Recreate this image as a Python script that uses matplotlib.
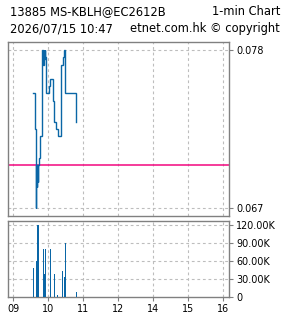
import matplotlib
matplotlib.use("Agg")
import matplotlib.pyplot as plt
import numpy as np

# ---------------- data ----------------
title_left = "13885 MS-KBLH@EC2612B"
title_right = "1-min Chart"
sub_left = "2026/07/15 10:47"
sub_right = "etnet.com.hk \u00a9 copyright"

# price path (time, price) as drawn step line (vertical moves repeat the time)
path_times = ["09:33", "09:38", "09:38", "09:39", "09:39", "09:39", "09:40", "09:40",
              "09:41", "09:41", "09:42", "09:42", "09:43", "09:43", "09:44", "09:44",
              "09:45", "09:45", "09:50", "09:50", "09:51", "09:51", "09:52", "09:52",
              "09:53", "09:53", "09:54", "09:54", "09:55", "09:55", "09:56", "09:56",
              "10:02", "10:02", "10:03", "10:03", "10:08", "10:08", "10:10", "10:10",
              "10:14", "10:14", "10:16", "10:16", "10:22", "10:22", "10:26", "10:26",
              "10:27", "10:27", "10:28", "10:28", "10:47", "10:47"]
path_prices = [0.075, 0.075, 0.0725, 0.0725, 0.067, 0.0700, 0.0700, 0.0685,
               0.0685, 0.0700, 0.0700, 0.0688, 0.0688, 0.0700, 0.0700, 0.0705,
               0.0705, 0.072, 0.072, 0.078, 0.078, 0.0770, 0.0770, 0.078,
               0.078, 0.0774, 0.0774, 0.078, 0.078, 0.0775, 0.0775, 0.075,
               0.075, 0.0755, 0.0755, 0.076, 0.076, 0.0745, 0.0745, 0.073,
               0.073, 0.0725, 0.0725, 0.072, 0.072, 0.077, 0.077, 0.0775,
               0.0775, 0.078, 0.078, 0.075, 0.075, 0.073]
prev_close = 0.070

vol_times = ["09:34", "09:39", "09:41", "09:42", "09:44", "09:51", "09:52", "09:53",
             "09:55", "10:03", "10:10", "10:15", "10:24", "10:27", "10:29", "10:48"]
vol_values = [49000, 61000, 120000, 9000, 120000, 81000, 39000, 39000,
              81000, 81000, 39000, 4000, 44000, 34000, 91000, 9000]

hour_labels = ["09", "10", "11", "12", "14", "15", "16"]
price_ticks = [0.067, 0.078]
vol_ticks = [0, 30000, 60000, 90000, 120000]
vol_tick_labels = ["0", "30.00K", "60.00K", "90.00K", "120.00K"]


def tindex(s):
    h, m = map(int, s.split(":"))
    if h >= 13:
        h -= 1
    return (h - 9) + m / 60.0


# ---------------- style ----------------
W, H = 285, 318
DPI = 100
frame_col = "#808080"
grid_col = "#bdbdbd"
line_col = "#0a66a6"
pink = "#f2077f"
fs_tick = 6.9
fs_head = 8.3

plt.rcParams["font.family"] = ["DejaVu Sans"]
fig = plt.figure(figsize=(W / DPI, H / DPI), dpi=DPI)


def px_axes(l, t, r, b):
    return fig.add_axes([l / W, 1 - b / H, (r - l) / W, (b - t) / H])


ax = px_axes(8, 42, 229.3, 216)
axv = px_axes(8, 221.3, 229.3, 297.3)

xlim = (-5.3 / 35, 216.0 / 35)
hour_pos = list(range(len(hour_labels)))

for a in (ax, axv):
    a.set_xlim(*xlim)
    for sp in a.spines.values():
        sp.set_color(frame_col)
        sp.set_linewidth(1.0)
    a.yaxis.tick_right()
    a.tick_params(axis="y", colors=frame_col, length=3, width=0.8, labelsize=fs_tick,
                  labelcolor="black", pad=2)
    a.set_xticks(hour_pos)
    for xp in hour_pos:
        a.axvline(xp, color=grid_col, lw=0.8, ls=(0, (2.5, 2.5)), zorder=0)

# price panel
ax.set_ylim(0.066464, 0.078578)
ax.set_yticks(price_ticks)
ax.set_yticklabels([f"{v:.3f}" for v in price_ticks])
for v in price_ticks:
    ax.axhline(v, color=grid_col, lw=0.8, ls=(0, (2.5, 2.5)), zorder=0)
ax.tick_params(axis="x", length=0, labelbottom=False)
ax.axhline(prev_close, color=pink, lw=1.1, zorder=2)
ax.plot([tindex(t) for t in path_times], path_prices, color=line_col, lw=1.0,
        solid_joinstyle="miter", zorder=3)

# volume panel
axv.set_ylim(0, 126700)
axv.set_yticks(vol_ticks)
axv.set_yticklabels(vol_tick_labels)
for v in vol_ticks[1:]:
    axv.axhline(v, color=grid_col, lw=0.8, ls=(0, (2.5, 2.5)), zorder=0)
axv.bar([tindex(t) for t in vol_times], vol_values, width=0.03, color=line_col,
        align="center", zorder=3, linewidth=0, antialiased=False)
axv.set_xticklabels(hour_labels)
axv.tick_params(axis="x", colors=frame_col, length=3, width=0.8, labelsize=fs_tick,
                labelcolor="black", pad=1.5)

# header text
fig.text(10 / W, 1 - 11.5 / H, title_left, fontsize=fs_head, va="center", ha="left")
fig.text(280 / W, 1 - 11.5 / H, title_right, fontsize=fs_head, va="center", ha="right")
fig.text(10 / W, 1 - 28.5 / H, sub_left, fontsize=fs_head, va="center", ha="left")
fig.text(280 / W, 1 - 28.5 / H, sub_right, fontsize=fs_head, va="center", ha="right")

fig.savefig("out.png", dpi=DPI, facecolor="white")
